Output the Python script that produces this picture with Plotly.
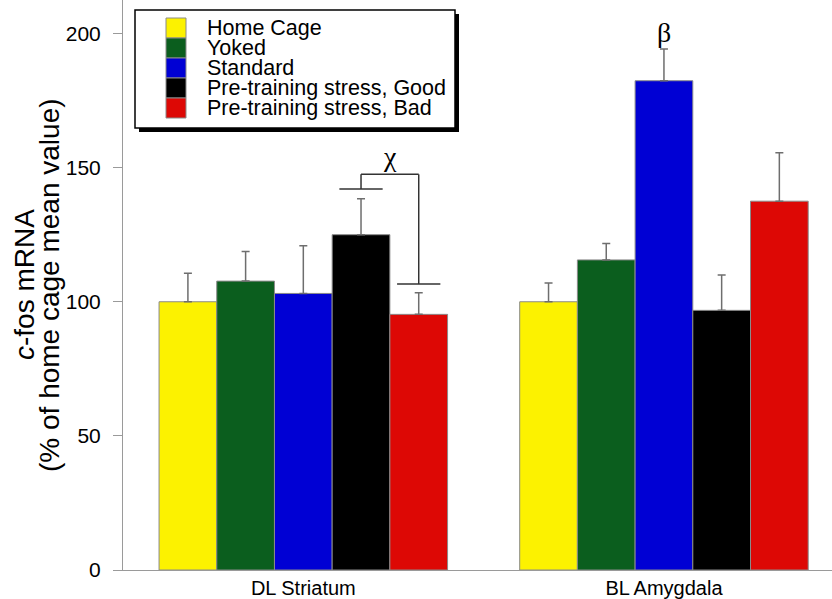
import plotly.graph_objects as go

regions = ["DL Striatum", "BL Amygdala"]
groups = ["Home Cage", "Yoked", "Standard", "Pre-training stress, Good", "Pre-training stress, Bad"]
colors = ["#FCF200", "#0B5E1E", "#0000D4", "#000000", "#DD0805"]
# mean values (% of home cage) per group: [DL Striatum, BL Amygdala]
home_cage = [100.0, 100.0]
yoked = [107.7, 115.6]
standard = [103.1, 182.4]
stress_good = [125.0, 96.8]
stress_bad = [95.3, 137.5]
# upper error (SEM) per group
home_cage_err = [10.6, 7.0]
yoked_err = [11.0, 6.1]
standard_err = [17.8, 11.8]
stress_good_err = [13.4, 13.2]
stress_bad_err = [8.1, 18.1]

yticks = [0, 50, 100, 150, 200]

means = [home_cage, yoked, standard, stress_good, stress_bad]
errs = [home_cage_err, yoked_err, standard_err, stress_good_err, stress_bad_err]
xpos = list(range(len(regions)))

W, H = 832, 599
ML, MR, MT, MB = 123, 0, 0, 29
PW, PH = W - ML - MR, H - MT - MB
FONT = "Liberation Sans, Arial, Helvetica, sans-serif"

fig = go.Figure()
for name, col, m, e in zip(groups, colors, means, errs):
    fig.add_trace(go.Bar(
        x=xpos, y=m, name=name,
        marker=dict(color=col, line=dict(color="#8a8a8a", width=1)),
        error_y=dict(type="data", symmetric=False, array=e, arrayminus=[0] * len(e),
                     color="#6e6e6e", thickness=1.5, width=4),
        showlegend=False,
    ))

def px(x):
    return (x - ML) / PW

def py(y):
    return (H - MB - y) / PH

shapes = []
# legend box with shadow
shapes.append(dict(type="rect", xref="paper", yref="paper", x0=px(139), x1=px(459), y0=py(132), y1=py(14),
                   fillcolor="black", line=dict(width=0), layer="above"))
shapes.append(dict(type="rect", xref="paper", yref="paper", x0=px(135), x1=px(455), y0=py(128), y1=py(10),
                   fillcolor="white", line=dict(color="black", width=1.5), layer="above"))
annotations = []
for i, (name, col) in enumerate(zip(groups, colors)):
    top = 18 + 20 * i
    shapes.append(dict(type="rect", xref="paper", yref="paper", x0=px(166), x1=px(186),
                       y0=py(top + 20), y1=py(top), fillcolor=col,
                       line=dict(color="#8a8a8a", width=1), layer="above"))
    annotations.append(dict(text=name, xref="paper", yref="paper", x=px(205), y=py(top + 10),
                            xanchor="left", yanchor="middle", showarrow=False,
                            font=dict(family=FONT, size=21.5, color="black")))

# significance bracket (chi) between stress good and stress bad in DL Striatum
bc = "#333333"
for (x0, y0, x1, y1) in [(0.10, 142, 0.22, 142), (0.16, 142, 0.16, 147.5), (0.16, 147.5, 0.32, 147.5),
                         (0.32, 147.5, 0.32, 106.6), (0.26, 106.6, 0.38, 106.6)]:
    shapes.append(dict(type="line", xref="x", yref="y", x0=x0, y0=y0, x1=x1, y1=y1,
                       line=dict(color=bc, width=1.5)))

annotations.append(dict(text="χ", x=0.24, y=154, xref="x", yref="y", showarrow=False,
                        font=dict(family="Liberation Serif, serif", size=28, color="black")))
annotations.append(dict(text="β", x=1.0, y=200.5, xref="x", yref="y", showarrow=False,
                        font=dict(family="Liberation Serif, serif", size=28, color="black")))

# y axis title (two lines)
annotations.append(dict(text="<i>c</i>-fos mRNA", xref="paper", yref="paper", x=px(24), y=0.5,
                        textangle=-90, showarrow=False, xanchor="center", yanchor="middle",
                        font=dict(family=FONT, size=28, color="black")))
annotations.append(dict(text="(% of home cage mean value)", xref="paper", yref="paper", x=px(49), y=0.5,
                        textangle=-90, showarrow=False, xanchor="center", yanchor="middle",
                        font=dict(family=FONT, size=28, color="black")))

fig.update_layout(
    width=W, height=H,
    margin=dict(l=ML, r=MR, t=MT, b=MB),
    paper_bgcolor="white", plot_bgcolor="white",
    barmode="group", bargap=0.2, bargroupgap=0,
    shapes=shapes, annotations=annotations,
    font=dict(family=FONT, color="black"),
    xaxis=dict(range=[-0.5, 1.466], tickvals=xpos, ticktext=regions, ticks="",
               showline=True, linecolor="#9a9a9a", linewidth=1, showgrid=False, zeroline=False,
               tickfont=dict(size=20, family=FONT, color="black")),
    yaxis=dict(range=[0, 212.5], tickvals=yticks, ticks="outside", ticklen=9, tickcolor="#9a9a9a",
               tickwidth=1, showline=True, linecolor="#9a9a9a", linewidth=1, showgrid=False,
               zeroline=False, ticklabelstandoff=8,
               tickfont=dict(size=21, family=FONT, color="black")),
)

fig.write_html("out.html", config={"displayModeBar": False},
               post_script="document.body.style.margin='0';document.body.style.overflow='hidden';")
